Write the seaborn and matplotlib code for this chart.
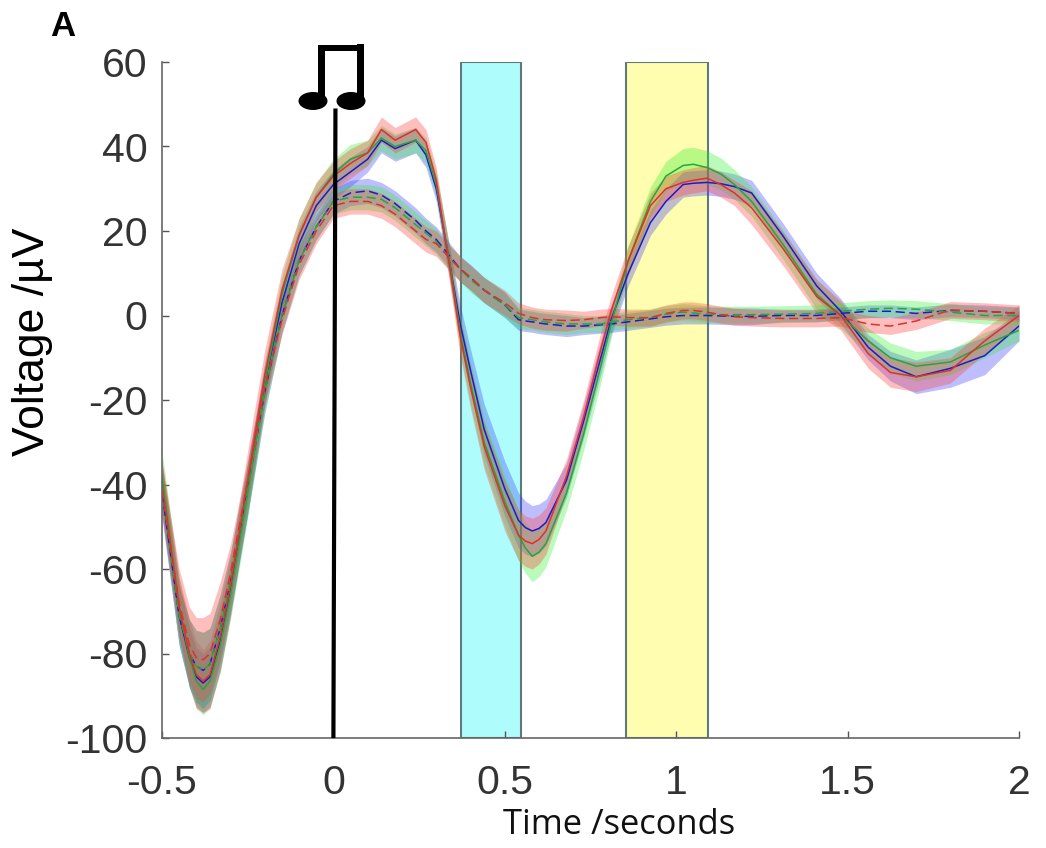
import matplotlib
matplotlib.use("Agg")
import matplotlib.pyplot as plt
from matplotlib.patches import Ellipse, Rectangle
import pandas as pd
import seaborn as sns

# time axis, seconds
t = [-0.5, -0.45, -0.42, -0.4, -0.38, -0.36, -0.33, -0.3, -0.25, -0.2, -0.15, -0.1,
     -0.05, 0, 0.05, 0.1, 0.14, 0.18, 0.24, 0.27, 0.3, 0.34,
     0.37, 0.4, 0.44, 0.5, 0.54, 0.56, 0.58, 0.6, 0.62, 0.68, 0.73, 0.78,
     0.81, 0.86, 0.925, 0.97, 1.02, 1.05, 1.09, 1.13, 1.17, 1.22, 1.31, 1.41,
     1.48, 1.56, 1.625, 1.7, 1.8, 1.9, 2.0]

# solid curves
blue_solid = [-41, -71, -81, -85.5, -87, -85.5, -77, -65, -41, -16, 3, 17,
              26, 31, 34, 37, 41.5, 39.5, 41.5, 38, 30, 12,
              -2, -13, -27, -41, -48.5, -50.2, -51, -50.4, -49, -39, -25, -10,
              -1, 10, 22, 27, 31, 31.3, 31.5, 31.2, 30.5, 29, 19, 7,
              1, -7.5, -12, -14.5, -12.5, -9.5, -2.5]
red_solid = [-40, -69, -80, -85, -86.5, -85, -76, -64, -39, -14, 6, 19,
             28, 33, 36, 38.5, 44, 41.5, 44, 41, 32, 11,
             -5, -17, -31, -45, -52, -53.4, -54, -53, -51, -38, -24, -8,
             1, 13, 26, 30, 31.5, 32, 32.5, 31, 29, 25.5, 16, 4.5,
             0, -9, -13.5, -14.5, -13, -6, 0]
green_solid = [-38, -69, -81, -86.5, -88.5, -86.5, -78, -66, -42, -16, 5, 19,
               28, 33.5, 37, 38.5, 42, 40, 41.5, 39, 31, 12,
               -4, -16, -30, -44, -52, -55, -57, -56, -54, -42, -28, -12,
               -2, 13, 27, 33, 35.5, 35.8, 35, 33.5, 31, 27, 17, 5,
               0, -6, -10, -12, -11, -7, -3.5]

# dashed curves
blue_dash = [-42, -71, -80, -83, -84, -82.5, -74, -63, -41, -18, 0, 13,
             21, 27, 29, 29.5, 28.5, 26.5, 22.5, 20, 18, 14,
             11, 9, 6, 2.5, -1, -1.3, -1.5, -1.8, -2, -2.5, -2.5, -2.2,
             -2, -1.5, -0.8, -0.3, 0, 0, 0, -0.1, -0.2, -0.2, 0, 0,
             0.5, 1, 1, 0.5, 1.2, 1, 0.5]
red_dash = [-41, -68, -78, -81, -81.5, -80, -72, -61, -39, -17, -1, 12,
            20, 26, 27, 27, 26, 24, 20, 18, 17, 13.5,
            11, 9, 6, 3, 0.5, 0, -0.5, -0.8, -1, -1.2, -1, -0.5,
            -0.3, -0.5, -0.5, 0.5, 1.2, 1.2, 0.8, 0.2, -0.3, -0.5, -0.7, -0.7,
            -0.5, -2, -2.5, -1.3, 1.3, 1, 0.5]
green_dash = [-41, -71, -80, -83, -84, -82.5, -74, -63, -41, -18, 0, 13,
              21, 27, 28, 28, 27.5, 25.5, 21.5, 19.5, 17.5, 13.5,
              11, 8.5, 6, 2.5, -0.5, -0.8, -1, -1.3, -1.5, -2, -2, -2,
              -1.5, -1, -0.5, 0.3, 0.8, 0.6, 0.3, 0.2, 0.2, 0.2, 0.3, 0.5,
              1, 1.5, 1.7, 1.5, 0.8, 0, 0]

# half widths of the shaded bands
blue_solid_err = [6, 7, 7, 7, 7, 7, 7, 6, 6, 5, 4.5, 4,
                  3.5, 3.5, 3.5, 3, 3, 3, 3, 3, 3, 4,
                  4.5, 5, 6, 6.5, 6.5, 6.3, 6, 5.8, 5.5, 4, 4, 4,
                  3.5, 3, 3, 3, 3, 3, 3, 3, 3, 3, 3, 3,
                  3, 3, 3.5, 4, 4.5, 4.5, 3.5]
red_solid_err = [6, 7, 8, 8, 7.5, 8, 8, 7, 7, 6, 5, 4,
                 3.5, 3.5, 3.5, 3, 3, 3, 3, 3, 3, 4,
                 4.5, 5, 5.5, 6, 6, 6, 6, 5.8, 5.5, 4, 4, 4,
                 3.5, 3.5, 3, 3, 3, 3, 3, 3, 3, 4, 4, 4,
                 3.5, 3.5, 3.5, 3.5, 3, 3, 2.5]
green_solid_err = [6, 7, 7, 6.5, 6, 6.5, 6.5, 6, 6, 5, 4.5, 4,
                   3.5, 3.5, 3.5, 3, 3, 3, 3, 3, 3, 4,
                   4.5, 5, 5.5, 6, 6, 6, 6, 5.8, 5.5, 4, 4, 4,
                   3.5, 3.5, 3.5, 3.5, 4, 4, 4, 3.8, 3.5, 3.5, 3.5, 3.5,
                   3, 3, 3.5, 3.5, 3, 3, 2.5]
blue_dash_err = [6, 7, 8, 8.5, 9, 8.5, 8, 7, 6, 5, 4, 3.5,
                 3, 3, 3, 3, 3, 3, 3, 3, 3, 3,
                 3, 3, 3, 3, 2.5, 2.5, 2.5, 2.5, 2.5, 2.5, 2, 2,
                 2, 2, 2, 2, 2, 2, 2, 2, 2, 2, 1.5, 1.5,
                 1.5, 1.5, 1.5, 1.5, 1.5, 1.5, 1.5]
red_dash_err = [6, 8, 9, 9.5, 10, 9.5, 9, 7, 5, 4, 3.5, 3.5,
                3, 3, 3, 3, 3, 3, 3, 3, 3, 3,
                3, 3, 3, 3, 2.5, 2.5, 2.5, 2.5, 2.5, 2.5, 2, 2,
                2, 2, 2, 2, 2, 2, 2, 2, 2, 2, 2, 2,
                2, 2, 2, 2, 2, 2, 2]
green_dash_err = [6, 7, 8, 8.5, 9, 8.5, 8, 7, 6, 5, 4, 3.5,
                  3, 3, 3, 3, 3, 3, 3, 3, 3, 3,
                  3, 3, 3, 3, 2.5, 2.5, 2.5, 2.5, 2.5, 2.5, 2, 2,
                  2, 2, 2, 2, 2, 2, 2, 2, 2, 2, 2, 2,
                  2, 2, 2, 2, 2, 2, 2]

y_ticks = [-100, -80, -60, -40, -20, 0, 20, 40, 60]
x_ticks = [-0.5, 0, 0.5, 1, 1.5, 2]
x_labels = ["-0.5", "0", "0.5", "1", "1.5", "2"]
windows = [(0.373, 0.548, "#aefcfc"), (0.855, 1.093, "#fffdb0")]

series = [("blue", "solid", blue_solid, blue_solid_err),
          ("green", "solid", green_solid, green_solid_err),
          ("red", "solid", red_solid, red_solid_err),
          ("blue", "dash", blue_dash, blue_dash_err),
          ("green", "dash", green_dash, green_dash_err),
          ("red", "dash", red_dash, red_dash_err)]
line_cols = {"blue": "#1a1ad0", "green": "#22a83a", "red": "#e0302a"}
band_cols = {"blue": "#3c3cff", "green": "#30f030", "red": "#ff3c3c"}

rows = []
for col, kind, vals, err in series:
    rows.append(pd.DataFrame({"t": t, "v": vals, "err": err, "colour": col,
                              "kind": kind, "name": col + kind}))
df = pd.concat(rows, ignore_index=True)

sns.set_theme(style="ticks")
plt.rcParams["font.family"] = ["Liberation Sans", "DejaVu Sans"]
plt.rcParams["axes.unicode_minus"] = False

W, H = 1046, 848
fig = plt.figure(figsize=(W / 100, H / 100), dpi=100)
ax = fig.add_axes([162 / W, 1 - 738 / H, (1019 - 162) / W, (738 - 62) / H])

for x0, x1, c in windows:
    ax.add_patch(Rectangle((x0, -100), x1 - x0, 160, facecolor=c,
                           edgecolor="#5f7a78", lw=1.5, zorder=0.5))

for name, d in df.groupby("name", sort=False):
    ax.fill_between(d["t"], d["v"] - d["err"], d["v"] + d["err"],
                    color=band_cols[d["colour"].iloc[0]], alpha=0.33, lw=0, zorder=1)

sns.lineplot(data=df, x="t", y="v", hue="colour", style="kind", units="name",
             estimator=None, sort=False, palette=line_cols,
             dashes={"solid": "", "dash": (6, 3)}, lw=1.1, legend=False, ax=ax)

# stimulus onset line, slightly slanted like the hand drawn one
ax.plot([0.006, 0], [49, -100], color="black", lw=3.0, zorder=4, clip_on=False,
        solid_capstyle="butt")

ax.set_xlim(-0.5, 2)
ax.set_ylim(-100, 60)
ax.set_xticks(x_ticks)
ax.set_xticklabels(x_labels)
ax.set_yticks(y_ticks)
ax.tick_params(direction="in", length=5, width=1, color="#555555",
               labelcolor="#333333", labelsize=29.5)
ax.tick_params(axis="x", pad=19)
ax.tick_params(axis="y", pad=10.5)
sns.despine(ax=ax)
for s in ["left", "bottom"]:
    ax.spines[s].set_color("#666666")
    ax.spines[s].set_linewidth(1.2)

ax.set_xlabel("")
ax.set_ylabel("")
fig.text(619 / W, 1 - 825 / H, "Time /seconds", fontsize=24.8, family="Open Sans",
         color="#111111", ha="center", va="center")
fig.text(33 / W, 1 - 342 / H, "Voltage /µV", fontsize=32, rotation=90,
         color="black", ha="center", va="center")
fig.text(63 / W, 1 - 27 / H, "A", fontsize=25, fontweight="bold",
         color="black", ha="center", va="center")


# music note, placed in pixels of the figure
def box(x0, y0, x1, y1):
    fig.add_artist(Rectangle((x0 / W, 1 - y1 / H), (x1 - x0) / W, (y1 - y0) / H,
                             transform=fig.transFigure, color="black", lw=0))


box(318, 45, 325, 100)
box(357, 44, 364, 100)
box(318, 45, 364, 51)
for cx in [313, 351]:
    fig.add_artist(Ellipse((cx / W, 1 - 101 / H), 29 / W, 18 / H,
                           transform=fig.transFigure, color="black", lw=0))

fig.savefig("out.png", dpi=100)
